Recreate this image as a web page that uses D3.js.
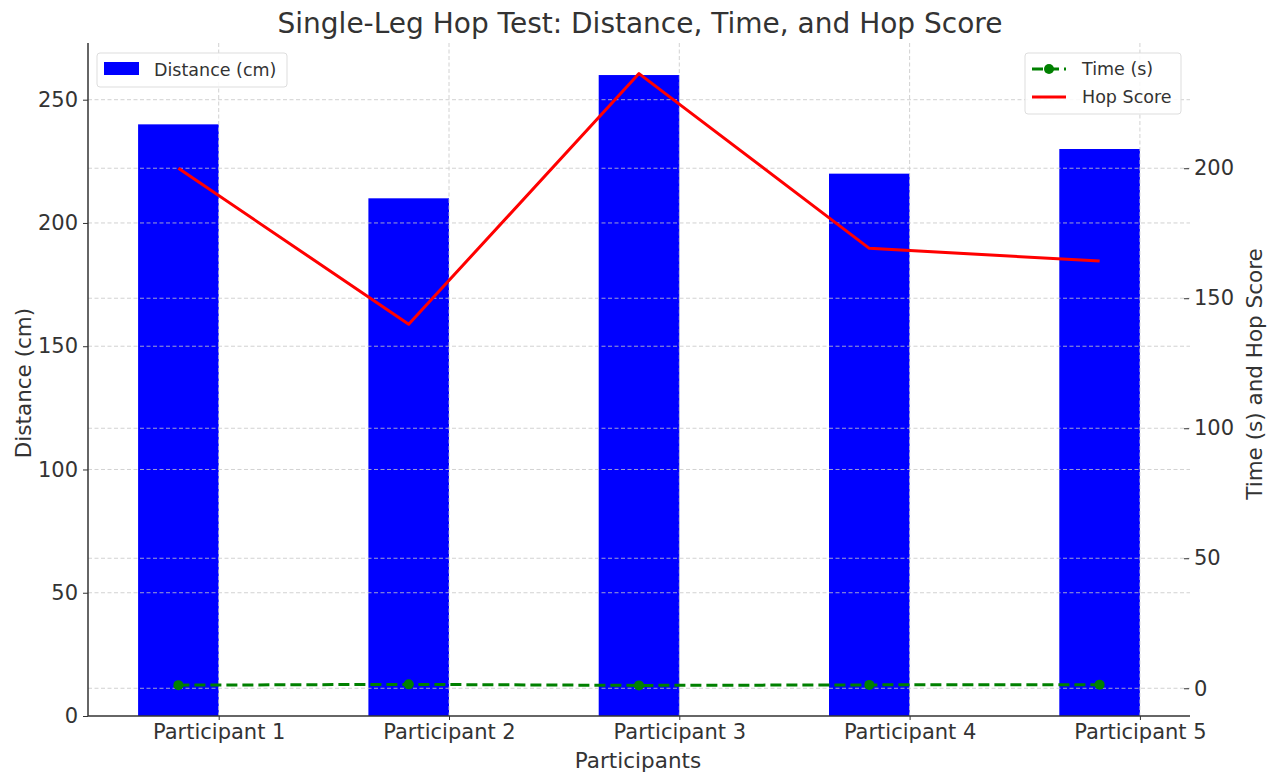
<!DOCTYPE html>
<html>
<head>
<meta charset="utf-8">
<script src="https://cdn.jsdelivr.net/npm/d3@7"></script>
<style>
  html, body { margin: 0; padding: 0; background: #fff; }
  svg { display: block; font-family: "DejaVu Sans", sans-serif; }
</style>
</head>
<body>
<svg id="chart" width="1275" height="777"></svg>
<script>
const participants = ["Participant 1", "Participant 2", "Participant 3", "Participant 4", "Participant 5"];
const distance = [240, 210, 260, 220, 230];
const timeSec = [1.2, 1.5, 1.1, 1.3, 1.4];
const hopScore = [200, 140, 236.4, 169.2, 164.3];
const leftTicks = [0, 50, 100, 150, 200, 250];
const rightTicks = [0, 50, 100, 150, 200];

(function () {
const pL = 88, pR = 1190, pT = 43, pB = 716;
const barW = 0.35;

const svg = d3.select("#chart");

const xMin = -barW, xMax = participants.length - 1;
const xm = (xMax - xMin) * 0.05;
const x = d3.scaleLinear().domain([xMin - xm, xMax + xm]).range([pL, pR]);

const dMax = d3.max(distance);
const yL = d3.scaleLinear().domain([0, dMax * 1.05]).range([pB, pT]);

const rMin = d3.min(timeSec), rMax = d3.max(hopScore);
const rm = (rMax - rMin) * 0.05;
const yR = d3.scaleLinear().domain([rMin - rm, rMax + rm]).range([pB, pT]);

const gridColor = "#c8c8c8";

svg.append("g").selectAll("rect").data(distance).join("rect")
  .attr("x", (d, i) => x(i - barW))
  .attr("width", x(barW) - x(0))
  .attr("y", d => yL(d))
  .attr("height", d => yL(0) - yL(d))
  .attr("fill", "#0000ff");

const grid = svg.append("g").attr("stroke", gridColor).attr("stroke-width", 1)
  .attr("stroke-dasharray", "4,2.5").attr("opacity", 0.8);
grid.selectAll(".gl").data(leftTicks.slice(1)).join("line").attr("class", "gl")
  .attr("x1", pL).attr("x2", pR).attr("y1", d => yL(d)).attr("y2", d => yL(d));
grid.selectAll(".gr").data(rightTicks).join("line").attr("class", "gr")
  .attr("x1", pL).attr("x2", pR).attr("y1", d => yR(d)).attr("y2", d => yR(d));
grid.selectAll(".gx").data(participants).join("line").attr("class", "gx")
  .attr("x1", (d, i) => x(i)).attr("x2", (d, i) => x(i)).attr("y1", pT).attr("y2", pB);

const lineHop = d3.line().x((d, i) => x(i - barW / 2)).y(d => yR(d));
svg.append("path").datum(hopScore).attr("d", lineHop)
  .attr("fill", "none").attr("stroke", "#ff0000").attr("stroke-width", 3)
  .attr("stroke-linejoin", "round");

const lineTime = d3.line().x((d, i) => x(i - barW / 2)).y(d => yR(d));
svg.append("path").datum(timeSec).attr("d", lineTime)
  .attr("fill", "none").attr("stroke", "#008000").attr("stroke-width", 3)
  .attr("stroke-dasharray", "11,5");
svg.append("g").selectAll("circle").data(timeSec).join("circle")
  .attr("cx", (d, i) => x(i - barW / 2)).attr("cy", d => yR(d)).attr("r", 5)
  .attr("fill", "#008000");

const axisColor = "#333";
const fs = 21;
const axL = d3.axisLeft(yL).tickValues(leftTicks).tickSize(5).tickPadding(5);
const gL = svg.append("g").attr("transform", `translate(${pL},0)`).call(axL);
gL.select(".domain").remove();
svg.append("line").attr("x1", pL).attr("x2", pL).attr("y1", pT).attr("y2", pB)
  .attr("stroke", axisColor).attr("stroke-width", 1.5);

const axR = d3.axisRight(yR).tickValues(rightTicks).tickSize(5).tickPadding(5);
const gR = svg.append("g").attr("transform", `translate(${pR - 6},0)`).call(axR);
gR.select(".domain").remove();

const axB = d3.axisBottom(x).tickValues(d3.range(participants.length))
  .tickFormat(i => participants[i]).tickSize(4).tickPadding(4);
const gB = svg.append("g").attr("transform", `translate(0,${pB})`).call(axB);
gB.select(".domain").remove();
svg.append("line").attr("x1", pL).attr("x2", pR).attr("y1", pB).attr("y2", pB)
  .attr("stroke", axisColor).attr("stroke-width", 1.5);

[gL, gR, gB].forEach(g => {
  g.selectAll("text").attr("font-size", fs).attr("fill", "#333").attr("font-family", "DejaVu Sans");
  g.selectAll(".tick line").attr("stroke", axisColor);
});

svg.append("text").attr("x", 638).attr("y", 768).attr("text-anchor", "middle")
  .attr("font-size", 21.5).attr("fill", "#333").text("Participants");
svg.append("text").attr("transform", `translate(31,383) rotate(-90)`)
  .attr("text-anchor", "middle").attr("font-size", 21.5).attr("fill", "#333").text("Distance (cm)");
svg.append("text").attr("transform", `translate(1262,374) rotate(-90)`)
  .attr("text-anchor", "middle").attr("font-size", 21.5).attr("fill", "#333").text("Time (s) and Hop Score");

svg.append("text").attr("x", 640).attr("y", 33).attr("text-anchor", "middle")
  .attr("font-size", 28).attr("fill", "#333").text("Single-Leg Hop Test: Distance, Time, and Hop Score");

const lg1 = svg.append("g");
lg1.append("rect").attr("x", 97).attr("y", 53).attr("width", 190).attr("height", 34).attr("rx", 3)
  .attr("fill", "#fff").attr("fill-opacity", 0.85).attr("stroke", "#ddd");
lg1.append("rect").attr("x", 104).attr("y", 62).attr("width", 35).attr("height", 13).attr("fill", "#0000ff");
lg1.append("text").attr("x", 154).attr("y", 76).attr("font-size", 17.5).attr("fill", "#333").text("Distance (cm)");

const lg2 = svg.append("g");
lg2.append("rect").attr("x", 1025).attr("y", 53).attr("width", 156).attr("height", 61).attr("rx", 3)
  .attr("fill", "#fff").attr("fill-opacity", 0.85).attr("stroke", "#ddd");
lg2.append("line").attr("x1", 1032).attr("x2", 1066).attr("y1", 69).attr("y2", 69)
  .attr("stroke", "#008000").attr("stroke-width", 3).attr("stroke-dasharray", "11,5");
lg2.append("circle").attr("cx", 1049).attr("cy", 69).attr("r", 5).attr("fill", "#008000");
lg2.append("text").attr("x", 1082).attr("y", 75).attr("font-size", 17.5).attr("fill", "#333").text("Time (s)");
lg2.append("line").attr("x1", 1032).attr("x2", 1066).attr("y1", 97).attr("y2", 97)
  .attr("stroke", "#ff0000").attr("stroke-width", 3);
lg2.append("text").attr("x", 1082).attr("y", 103).attr("font-size", 17.5).attr("fill", "#333").text("Hop Score");
})();
</script>
</body>
</html>
